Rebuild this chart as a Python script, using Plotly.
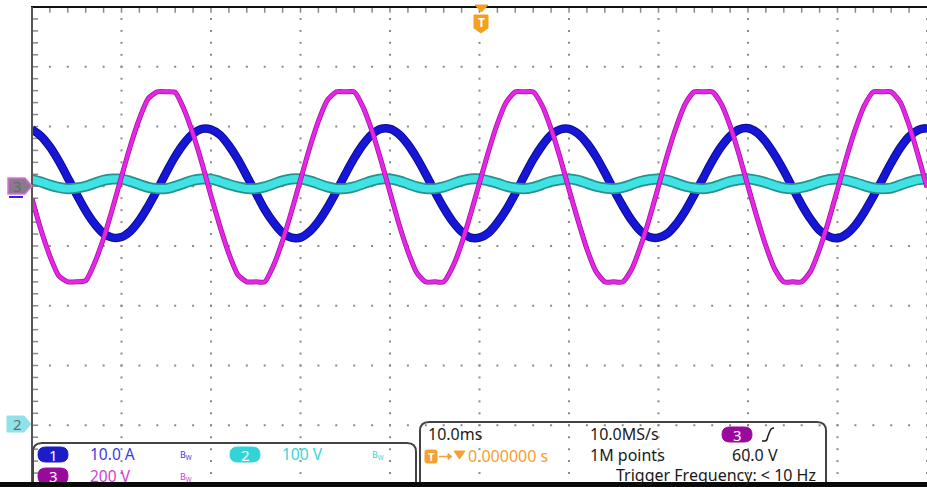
import plotly.graph_objects as go
import numpy as np

# ---------------- data ----------------
# time axis in ms (10 ms/div, 10 divisions); 1 ms samples
time_ms = list(range(0, 101))

# Channel 1 (blue, current) in screen divisions
ch1_div = [1.95, 1.84, 1.66, 1.42, 1.14, 0.86, 0.59, 0.37, 0.21, 0.14,
           0.15, 0.25, 0.43, 0.67, 0.94, 1.23, 1.50, 1.72, 1.88, 1.96,
           1.95, 1.86, 1.68, 1.45, 1.17, 0.89, 0.61, 0.39, 0.22, 0.14,
           0.14, 0.24, 0.41, 0.64, 0.91, 1.20, 1.47, 1.70, 1.87, 1.96,
           1.96, 1.87, 1.70, 1.47, 1.20, 0.91, 0.64, 0.41, 0.24, 0.14,
           0.14, 0.22, 0.39, 0.61, 0.88, 1.17, 1.45, 1.68, 1.86, 1.95,
           1.96, 1.88, 1.72, 1.50, 1.23, 0.94, 0.67, 0.43, 0.25, 0.15,
           0.14, 0.21, 0.37, 0.59, 0.86, 1.14, 1.42, 1.66, 1.84, 1.95,
           1.97, 1.90, 1.74, 1.52, 1.26, 0.97, 0.69, 0.45, 0.26, 0.16,
           0.13, 0.20, 0.35, 0.57, 0.83, 1.11, 1.39, 1.64, 1.83, 1.94, 1.97]

# Channel 2 (cyan, DC bus with 100 Hz ripple) in screen divisions
ch2_div = [1.11, 1.07, 1.02, 0.98, 0.96, 0.97, 1.00, 1.05, 1.10, 1.12,
           1.12, 1.08, 1.03, 0.98, 0.96, 0.96, 1.00, 1.05, 1.10, 1.12,
           1.12, 1.08, 1.03, 0.99, 0.96, 0.96, 0.99, 1.04, 1.09, 1.12,
           1.12, 1.09, 1.04, 0.99, 0.96, 0.96, 0.99, 1.04, 1.09, 1.12,
           1.12, 1.09, 1.04, 0.99, 0.96, 0.96, 0.99, 1.04, 1.09, 1.12,
           1.12, 1.09, 1.05, 1.00, 0.97, 0.96, 0.98, 1.03, 1.08, 1.11,
           1.12, 1.10, 1.05, 1.00, 0.97, 0.96, 0.98, 1.03, 1.08, 1.11,
           1.12, 1.10, 1.05, 1.00, 0.97, 0.96, 0.98, 1.03, 1.08, 1.11,
           1.12, 1.10, 1.06, 1.01, 0.97, 0.96, 0.98, 1.02, 1.07, 1.11,
           1.12, 1.10, 1.06, 1.01, 0.97, 0.96, 0.97, 1.02, 1.07, 1.11, 1.12]

# Channel 3 (magenta, voltage) in screen divisions
ch3_div = [0.79, 0.27, -0.17, -0.50, -0.60, -0.60, -0.58, -0.28, 0.13, 0.63,
           1.16, 1.68, 2.13, 2.47, 2.58, 2.58, 2.57, 2.28, 1.87, 1.38,
           0.84, 0.33, -0.13, -0.48, -0.60, -0.60, -0.60, -0.32, 0.09, 0.58,
           1.11, 1.63, 2.09, 2.44, 2.58, 2.58, 2.58, 2.32, 1.92, 1.43,
           0.90, 0.37, -0.09, -0.45, -0.60, -0.60, -0.60, -0.35, 0.04, 0.53,
           1.06, 1.58, 2.05, 2.41, 2.58, 2.58, 2.58, 2.35, 1.96, 1.48,
           0.95, 0.43, -0.05, -0.42, -0.60, -0.60, -0.60, -0.39, 0.00, 0.47,
           1.00, 1.53, 2.00, 2.38, 2.58, 2.58, 2.58, 2.38, 2.01, 1.53,
           1.00, 0.48, 0.00, -0.39, -0.60, -0.60, -0.60, -0.42, -0.05, 0.42,
           0.95, 1.48, 1.96, 2.35, 2.58, 2.58, 2.58, 2.41, 2.02, 1.52, 0.98]

ch_labels = ["1", "2", "3"]
ch_scales = ["10.0 A", "100 V", "200 V"]
timebase = "10.0ms"
sample_rate = "10.0MS/s"
record_len = "1M points"
trig_pos = "0.000000 s"
trig_level = "60.0 V"
trig_freq = "Trigger Frequency: < 10 Hz"

# ---------------- styling / layout helpers ----------------
W, H = 927, 487
L, T, B = 32, 7, 2
PW, PH = W - L, H - T - B
FONT = "Noto Sans"


def px(x):
    return (x - L) / PW


def py(y):
    return (H - B - y) / PH


def rrect(x0, y0, x1, y1, r):
    return (f"M {px(x0 + r)},{py(y0)} L {px(x1 - r)},{py(y0)} "
            f"Q {px(x1)},{py(y0)} {px(x1)},{py(y0 + r)} L {px(x1)},{py(y1 - r)} "
            f"Q {px(x1)},{py(y1)} {px(x1 - r)},{py(y1)} L {px(x0 + r)},{py(y1)} "
            f"Q {px(x0)},{py(y1)} {px(x0)},{py(y1 - r)} L {px(x0)},{py(y0 + r)} "
            f"Q {px(x0)},{py(y0)} {px(x0 + r)},{py(y0)} Z")


def open_box(x0, x1, ytop, ybot, r):
    return (f"M {px(x0)},{py(ybot)} L {px(x0)},{py(ytop + r)} "
            f"Q {px(x0)},{py(ytop)} {px(x0 + r)},{py(ytop)} L {px(x1 - r)},{py(ytop)} "
            f"Q {px(x1)},{py(ytop)} {px(x1)},{py(ytop + r)} L {px(x1)},{py(ybot)}")


def poly(pts):
    s = "M " + " L ".join(f"{px(a)},{py(b)}" for a, b in pts)
    return s + " Z"


fig = go.Figure()

# ---------------- graticule ----------------
gx, gy = [], []
for yl in range(-3, 4):          # horizontal division lines
    for xm in np.arange(2, 100.1, 2):
        gx.append(xm); gy.append(yl)
for xl in range(10, 101, 10):    # vertical division lines
    for ym in np.arange(-3.8, 4.0, 0.2):
        gx.append(xl); gy.append(ym)
fig.add_trace(go.Scatter(x=gx, y=gy, mode="markers", hoverinfo="skip",
                         marker=dict(symbol="square", size=2, color="#8a8a8a", line_width=0)))
# ticks on left border and top border
lx = [0.3] * 40
ly = list(np.arange(-3.8, 4.0, 0.2))
fig.add_trace(go.Scatter(x=lx, y=ly, mode="markers", hoverinfo="skip",
                         marker=dict(symbol="line-ew", size=5, line=dict(width=1.5, color="#8a8a8a"))))
tx = list(np.arange(2, 100, 2))
fig.add_trace(go.Scatter(x=tx, y=[3.95] * len(tx), mode="markers", hoverinfo="skip",
                         marker=dict(symbol="line-ns", size=4, line=dict(width=1.5, color="#8a8a8a"))))

# ---------------- waveforms ----------------
fig.add_trace(go.Scatter(x=time_ms, y=ch1_div, mode="lines", hoverinfo="skip",
                         line=dict(color="#0c0c8c", width=8.5, shape="spline", smoothing=1)))
fig.add_trace(go.Scatter(x=time_ms, y=ch1_div, mode="lines", hoverinfo="skip",
                         line=dict(color="#1616d8", width=6.5, shape="spline", smoothing=1)))
fig.add_trace(go.Scatter(x=time_ms, y=ch2_div, mode="lines", hoverinfo="skip",
                         line=dict(color="#2a8f8f", width=11, shape="spline", smoothing=1)))
fig.add_trace(go.Scatter(x=time_ms, y=ch2_div, mode="lines", hoverinfo="skip",
                         line=dict(color="#3fe3e3", width=7.5, shape="spline", smoothing=1)))
fig.add_trace(go.Scatter(x=time_ms, y=ch3_div, mode="lines", hoverinfo="skip",
                         line=dict(color="#a014a0", width=5, shape="spline", smoothing=0.6)))
fig.add_trace(go.Scatter(x=time_ms, y=ch3_div, mode="lines", hoverinfo="skip",
                         line=dict(color="#e626e6", width=3.5, shape="spline", smoothing=0.6)))

shapes = []
ann = []

# borders
shapes.append(dict(type="line", xref="paper", yref="paper", x0=px(31), x1=px(927), y0=py(7), y1=py(7),
                   line=dict(color="#111111", width=2)))
shapes.append(dict(type="line", xref="paper", yref="paper", x0=px(32), x1=px(32), y0=py(7), y1=py(487),
                   line=dict(color="#555555", width=2)))

# channel reference markers on the left
shapes.append(dict(type="line", xref="paper", yref="paper", x0=px(9), x1=px(23), y0=py(197), y1=py(197),
                   line=dict(color="#2a2ae0", width=2)))
shapes.append(dict(type="path", xref="paper", yref="paper",
                   path=poly([(8, 178), (25, 178), (32, 186), (25, 194), (8, 194)]),
                   fillcolor="#8a7a8c", line=dict(color="#e070e0", width=1.5)))
ann.append(dict(x=px(17), y=py(186), xref="paper", yref="paper", text="3", showarrow=False,
                font=dict(family=FONT, size=15, color="#6a6a6a"), xanchor="center", yanchor="middle"))
shapes.append(dict(type="path", xref="paper", yref="paper",
                   path=poly([(7, 416), (24, 416), (31, 424), (24, 432), (7, 432)]),
                   fillcolor="#8fe2ea", line=dict(color="#8fe2ea", width=1)))
ann.append(dict(x=px(17), y=py(424), xref="paper", yref="paper", text="2", showarrow=False,
                font=dict(family=FONT, size=15, color="#5f6f70"), xanchor="center", yanchor="middle"))

# trigger marker at top
shapes.append(dict(type="path", xref="paper", yref="paper",
                   path=poly([(475, 5), (488, 5), (481.5, 12)]), fillcolor="#f5a020",
                   line=dict(color="#f5a020", width=1)))
shapes.append(dict(type="path", xref="paper", yref="paper",
                   path=poly([(474, 15), (488, 15), (488, 28), (481, 33), (474, 28)]),
                   fillcolor="#f5a020", line=dict(color="#f5a020", width=1)))
ann.append(dict(x=px(481), y=py(23), xref="paper", yref="paper", text="<b>T</b>", showarrow=False,
                font=dict(family=FONT, size=12, color="white"), xanchor="center", yanchor="middle"))

# info boxes
shapes.append(dict(type="path", xref="paper", yref="paper", path=open_box(33, 416, 443, 495, 9),
                   line=dict(color="#444444", width=2)))
shapes.append(dict(type="path", xref="paper", yref="paper", path=open_box(420, 826, 422, 495, 9),
                   line=dict(color="#444444", width=2)))

pill_col = ["#1c1cc8", "#33d4d8", "#990a9c"]
text_col = ["#3a3ae2", "#36d6d6", "#cf3fcf"]
pill_pos = [(38, 68, 447, 462), (230, 260, 447, 462), (38, 68, 468, 484)]
scale_pos = [(88, 454), (280, 454), (88, 476)]
bw_pos = [(178, 455), (370, 455), (178, 477)]
for i in range(3):
    x0, x1, y0, y1 = pill_pos[i]
    shapes.append(dict(type="path", xref="paper", yref="paper", path=rrect(x0, y0, x1, y1, 7.5),
                       fillcolor=pill_col[i], line=dict(color=pill_col[i], width=1)))
    ann.append(dict(x=px((x0 + x1) / 2), y=py((y0 + y1) / 2), xref="paper", yref="paper",
                    text=ch_labels[i], showarrow=False, xanchor="center", yanchor="middle",
                    font=dict(family=FONT, size=15, color="white")))
    sx, sy = scale_pos[i]
    ann.append(dict(x=px(sx), y=py(sy), xref="paper", yref="paper", text=ch_scales[i], showarrow=False,
                    xanchor="left", yanchor="middle", font=dict(family=FONT, size=15.5, color=text_col[i])))
    bx, by = bw_pos[i]
    ann.append(dict(x=px(bx), y=py(by), xref="paper", yref="paper", text="B<sub>W</sub>", showarrow=False,
                    xanchor="left", yanchor="middle", font=dict(family=FONT, size=9, color=text_col[i])))

# timebase box content
def txt(x, y, s, size=16, color="#1a1a1a", anchor="left"):
    ann.append(dict(x=px(x), y=py(y), xref="paper", yref="paper", text=s, showarrow=False,
                    xanchor=anchor, yanchor="middle", font=dict(family=FONT, size=size, color=color)))

txt(426, 434, timebase)
txt(588, 434, sample_rate)
shapes.append(dict(type="path", xref="paper", yref="paper", path=rrect(722, 427, 752, 442, 7.5),
                   fillcolor="#990a9c", line=dict(color="#990a9c", width=1)))
ann.append(dict(x=px(737), y=py(434.5), xref="paper", yref="paper", text="3", showarrow=False,
                xanchor="center", yanchor="middle", font=dict(family=FONT, size=15, color="white")))
shapes.append(dict(type="path", xref="paper", yref="paper",
                   path=f"M {px(762)},{py(441)} L {px(765)},{py(441)} Q {px(767)},{py(441)} {px(768)},{py(436)} "
                        f"L {px(770)},{py(431)} Q {px(771)},{py(428)} {px(774)},{py(428)}",
                   line=dict(color="#1a1a1a", width=1.5)))
# trigger position row
shapes.append(dict(type="path", xref="paper", yref="paper", path=rrect(425, 450, 437, 463, 2),
                   fillcolor="#f5a030", line=dict(color="#f5a030", width=1)))
ann.append(dict(x=px(431), y=py(456.5), xref="paper", yref="paper", text="<b>T</b>", showarrow=False,
                xanchor="center", yanchor="middle", font=dict(family=FONT, size=11, color="white")))
shapes.append(dict(type="line", xref="paper", yref="paper", x0=px(439), x1=px(449), y0=py(456.5), y1=py(456.5),
                   line=dict(color="#f5a030", width=1.5)))
shapes.append(dict(type="path", xref="paper", yref="paper", path=poly([(448, 453.5), (452, 456.5), (448, 459.5)]),
                   fillcolor="#f5a030", line=dict(color="#f5a030", width=1)))
shapes.append(dict(type="path", xref="paper", yref="paper", path=poly([(454, 451), (465, 451), (459.5, 459)]),
                   fillcolor="#f5a030", line=dict(color="#f5a030", width=1)))
txt(466, 456, trig_pos, color="#f5a030")
txt(588, 455, record_len)
txt(730, 455, trig_level)
txt(818, 475, trig_freq, anchor="right")

# bottom black bar
shapes.append(dict(type="rect", xref="paper", yref="paper", x0=px(0), x1=px(927), y0=py(487), y1=py(482),
                   fillcolor="#0a0a0a", line=dict(width=0)))

fig.update_layout(
    width=W, height=H,
    margin=dict(l=L, r=0, t=T, b=B),
    paper_bgcolor="white", plot_bgcolor="white",
    showlegend=False,
    xaxis=dict(range=[0, 100], visible=False, fixedrange=True),
    yaxis=dict(range=[-4, 4], visible=False, fixedrange=True),
    shapes=shapes, annotations=ann,
)

fig.write_html("out.html")
